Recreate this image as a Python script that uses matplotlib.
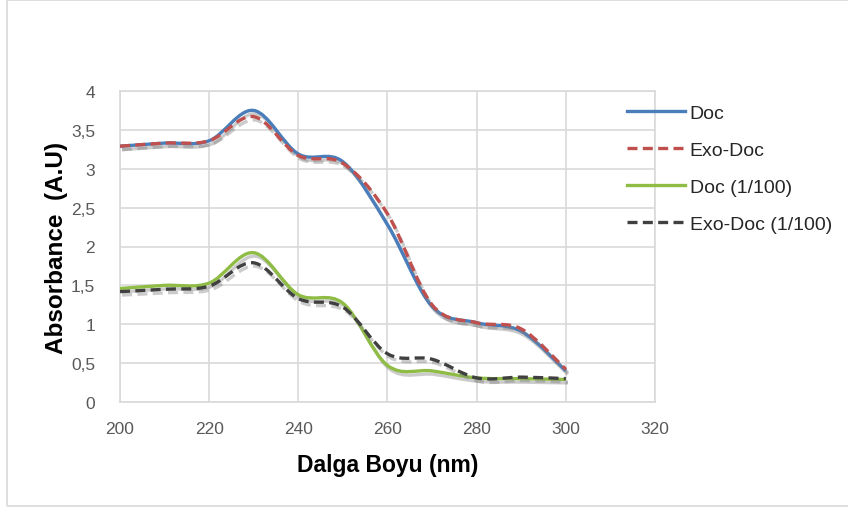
import numpy as np
import matplotlib
matplotlib.use("Agg")
import matplotlib.pyplot as plt
from matplotlib.path import Path
from matplotlib.patches import PathPatch, Rectangle
import matplotlib.patheffects as pe
from matplotlib.lines import Line2D
from matplotlib import font_manager

wavelength = [200, 210, 220, 230, 240, 250, 260, 270, 280, 290, 300]
doc = [3.29, 3.33, 3.36, 3.75, 3.19, 3.09, 2.28, 1.23, 1.02, 0.91, 0.40]
exo_doc = [3.29, 3.33, 3.36, 3.67, 3.17, 3.07, 2.42, 1.25, 1.02, 0.94, 0.42]
doc_100 = [1.46, 1.50, 1.53, 1.92, 1.38, 1.27, 0.47, 0.40, 0.31, 0.30, 0.29]
exo_doc_100 = [1.42, 1.45, 1.49, 1.79, 1.33, 1.22, 0.62, 0.55, 0.31, 0.32, 0.30]

series_names = ["Doc", "Exo-Doc", "Doc (1/100)", "Exo-Doc (1/100)"]
series_values = [doc, exo_doc, doc_100, exo_doc_100]
colors = ["#4a7ebb", "#c0504d", "#8fbc45", "#404040"]
styles = ["-", (0, (3, 1.6)), "-", (0, (3, 1.6))]

x_ticks = [200, 220, 240, 260, 280, 300, 320]
y_ticks = [0, 0.5, 1, 1.5, 2, 2.5, 3, 3.5, 4]
y_tick_labels = ["0", "0,5", "1", "1,5", "2", "2,5", "3", "3,5", "4"]

available = {f.name for f in font_manager.fontManager.ttflist}
main_font = "Liberation Sans" if "Liberation Sans" in available else "DejaVu Sans"
tick_font = "Liberation Sans Narrow" if "Liberation Sans Narrow" in available else main_font


def smooth_path(xs, ys):
    """Excel-like smoothed line: cubic Bezier through data points (Catmull-Rom)."""
    xs = np.asarray(xs, float)
    ys = np.asarray(ys, float)
    n = len(xs)
    verts = [(xs[0], ys[0])]
    codes = [Path.MOVETO]
    for i in range(n - 1):
        p0 = (xs[max(i - 1, 0)], ys[max(i - 1, 0)])
        p1 = (xs[i], ys[i])
        p2 = (xs[i + 1], ys[i + 1])
        p3 = (xs[min(i + 2, n - 1)], ys[min(i + 2, n - 1)])
        c1 = (p1[0] + (p2[0] - p0[0]) / 6, p1[1] + (p2[1] - p0[1]) / 6)
        c2 = (p2[0] - (p3[0] - p1[0]) / 6, p2[1] - (p3[1] - p1[1]) / 6)
        verts += [c1, c2, p2]
        codes += [Path.CURVE4] * 3
    return Path(verts, codes)


fig = plt.figure(figsize=(8.48, 5.10), dpi=100)
fig.patch.set_facecolor("white")
fig.patches.append(Rectangle((6.5 / 848, 3.5 / 510), 1.0, 506 / 510,
                             transform=fig.transFigure, fill=False,
                             edgecolor="#d9d9d9", linewidth=1.2, zorder=0))

ax = fig.add_axes([120 / 848, 1 - 403 / 510, 535 / 848, 311 / 510])
ax.set_xlim(200, 320)
ax.set_ylim(0, 4)
ax.set_xticks(x_ticks)
ax.set_yticks(y_ticks)
ax.set_yticklabels(y_tick_labels)
ax.grid(True, color="#d9d9d9", linewidth=1.2)
ax.set_axisbelow(True)
for s in ax.spines.values():
    s.set_color("#d9d9d9")
    s.set_linewidth(1.2)
ax.tick_params(axis="both", length=0, labelsize=12.5, colors="#595959")
ax.tick_params(axis="x", pad=14)
ax.tick_params(axis="y", pad=18)
for lbl in ax.get_xticklabels() + ax.get_yticklabels():
    lbl.set_family(tick_font)

shadow = [pe.SimpleLineShadow(offset=(1.5, -2.5), shadow_color="#7f7f7f", alpha=0.4),
          pe.Normal()]

handles = []
for name, vals, c, ls in zip(series_names, series_values, colors, styles):
    patch = PathPatch(smooth_path(wavelength, vals), facecolor="none", edgecolor=c,
                      linewidth=2.4, linestyle=ls, capstyle="butt", zorder=3)
    patch.set_path_effects(shadow)
    ax.add_patch(patch)
    handles.append(Line2D([], [], color=c, linewidth=2.4, linestyle=ls, label=name))

ax.set_xlabel("Dalga Boyu (nm)", fontsize=16.5, fontweight="bold", family=main_font, labelpad=12)
ax.set_ylabel("Absorbance  (A.U)", fontsize=17.5, fontweight="bold", family=main_font, labelpad=2)

leg = ax.legend(handles=handles, loc="upper left", bbox_to_anchor=(609 / 848, 1 - 88 / 510),
                bbox_transform=fig.transFigure, frameon=False,
                prop={"family": main_font, "size": 14},
                handlelength=3.0, handletextpad=0.25, labelspacing=1.0)
for t in leg.get_texts():
    t.set_color("#262626")

fig.savefig("out.png", dpi=100)
